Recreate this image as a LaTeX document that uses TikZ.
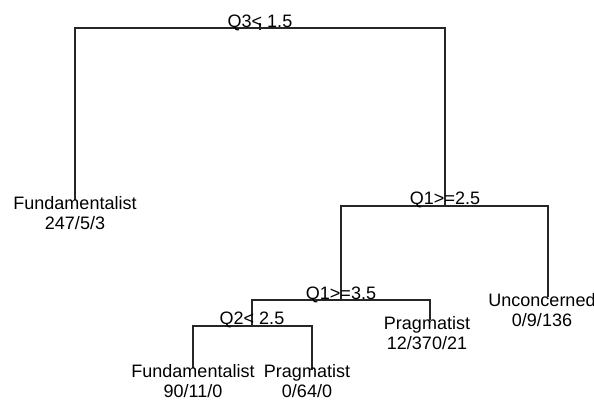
\documentclass[tikz,border=0pt]{standalone}
\usepackage{fontspec}
\setmainfont{Liberation Sans}
\begin{document}
\begin{tikzpicture}[x=0.5pt,y=-0.5pt]
\tikzstyle{every node}+=[inner sep=0pt]
\tikzstyle{branch}=[draw=black!85, line width=0.65pt]
\tikzstyle{split}=[anchor=base, font=\fontsize{9}{10}\selectfont]
\tikzstyle{leaf}=[anchor=north, align=center, font=\fontsize{9}{10}\selectfont]
\useasboundingbox (0,0) rectangle (594,402);
% split points and leaf ends
\coordinate (root) at (260,28);
\coordinate (tick) at (260,23);
\coordinate (q1a) at (445,206);
\coordinate (q1b) at (341,300);
\coordinate (q2) at (252,326);
\coordinate (fund1) at (75,200);
\coordinate (fund2) at (193,368);
\coordinate (prag1) at (312,370);
\coordinate (prag2) at (430,320);
\coordinate (uncon) at (548,297);
% branches
\draw [branch] (tick) -- ++(0,7);
\draw [branch] (fund1) |- (root) -| (q1a);
\draw [branch] (q1b) |- (q1a) -| (uncon);
\draw [branch] (q2) |- (q1b) -| (prag2);
\draw [branch] (fund2) |- (q2) -| (prag1);
% split labels
\node [split] (lab1) at (260,27) {Q3< 1.5};
\node [split] (lab2) at (445,204) {Q1>=2.5};
\node [split] (lab3) at (341,299) {Q1>=3.5};
\node [split] (lab4) at (252,324) {Q2< 2.5};
% leaves
\node [leaf] (leaf1) at (75,196) {Fundamentalist\\247/5/3};
\node [leaf] (leaf2) at (193,364) {Fundamentalist\\90/11/0};
\node [leaf] (leaf3) at (307,364) {Pragmatist\\0/64/0};
\node [leaf] (leaf4) at (427,316) {Pragmatist\\12/370/21};
\node [leaf] (leaf5) at (542,293) {Unconcerned\\0/9/136};
\end{tikzpicture}
\end{document}
